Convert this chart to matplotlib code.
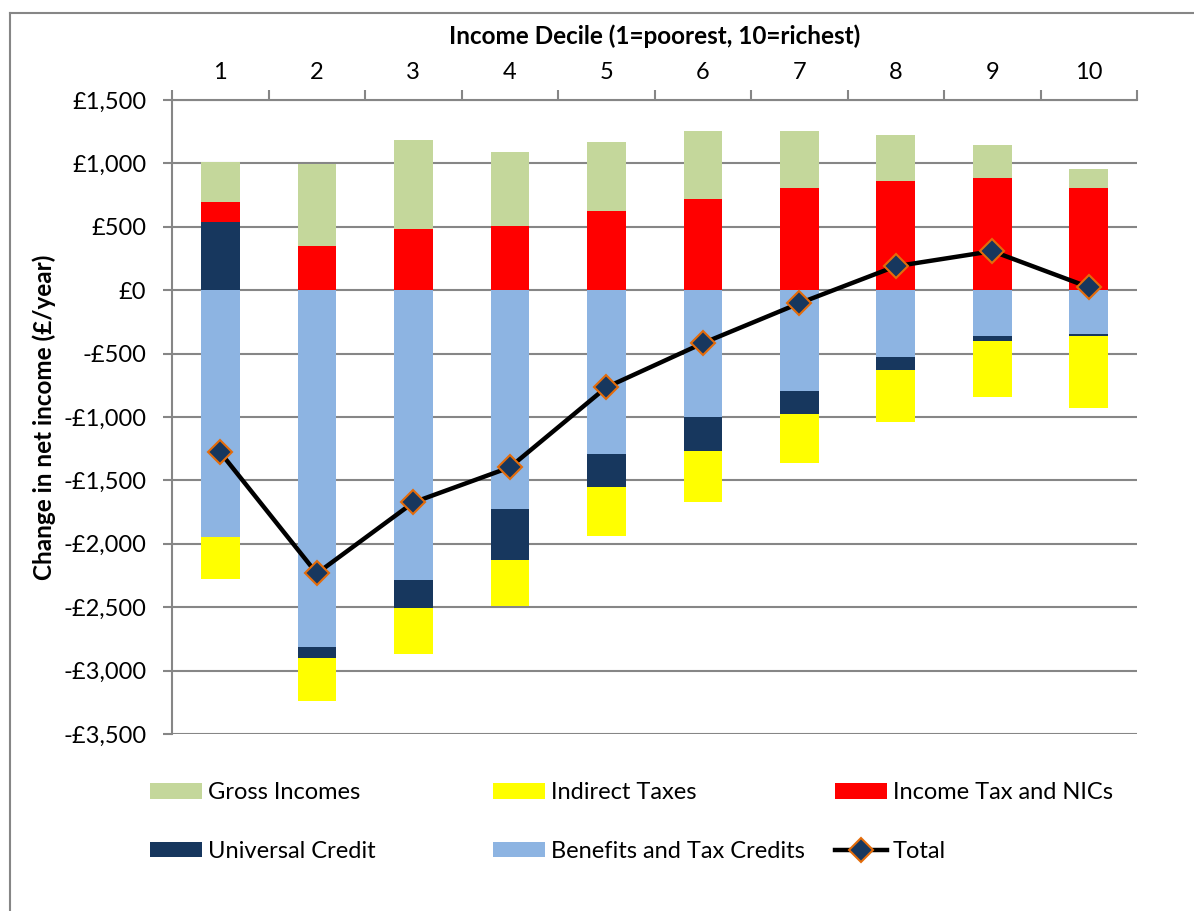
import numpy as np
import matplotlib
matplotlib.use("Agg")
import matplotlib.pyplot as plt
from matplotlib.lines import Line2D
from matplotlib.ticker import FuncFormatter

plt.rcParams['font.family'] = ['Lato', 'DejaVu Sans']

# Data (£/year)
deciles = [1, 2, 3, 4, 5, 6, 7, 8, 9, 10]
benefits = [-1950, -2811, -2282, -1729, -1295, -1003, -797, -529, -363, -347]
universal_credit = [540, -86, -221, -395, -260, -268, -182, -103, -40, -16]
income_tax = [155, 347, 482, 505, 624, 718, 805, 860, 884, 805]
gross_incomes = [315, 648, 702, 585, 544, 537, 450, 364, 261, 150]
indirect_taxes = [-330, -340, -363, -363, -387, -403, -387, -410, -442, -569]
total = [-1279, -2234, -1674, -1397, -766, -418, -103, 189, 308, 24]

series = [
    ("Benefits and Tax Credits", benefits, "#8DB4E2"),
    ("Universal Credit", universal_credit, "#17375E"),
    ("Income Tax and NICs", income_tax, "#FF0000"),
    ("Gross Incomes", gross_incomes, "#C4D79B"),
    ("Indirect Taxes", indirect_taxes, "#FFFF00"),
]

fig = plt.figure(figsize=(11.94, 9.11), dpi=100)
ax = fig.add_axes([0.1441, 0.1943, 0.8082, 0.6959])

x = np.arange(len(deciles))
pos_base = np.zeros(len(deciles))
neg_base = np.zeros(len(deciles))
handles = {}
for name, vals, color in series:
    vals = np.array(vals, dtype=float)
    bottom = np.where(vals >= 0, pos_base, neg_base)
    b = ax.bar(x, vals, width=0.4, bottom=bottom, color=color, zorder=2, label=name)
    handles[name] = b
    pos_base += np.where(vals >= 0, vals, 0)
    neg_base += np.where(vals < 0, vals, 0)

line, = ax.plot(x, total, color="black", lw=3.2, marker="D", markersize=12,
                markerfacecolor="#17375E", markeredgecolor="#E46C0A",
                markeredgewidth=1.5, zorder=3, label="Total")
handles["Total"] = line

ax.set_ylim(-3500, 1500)
ax.set_xlim(-0.5, len(deciles) - 0.5)
ax.set_yticks(np.arange(-3500, 1501, 500))
ax.yaxis.set_major_formatter(FuncFormatter(
    lambda v, p: ("-£{:,.0f}".format(-v) if v < 0 else "£{:,.0f}".format(v))))
ax.grid(axis="y", color="#868686", lw=1.5, zorder=0)
ax.set_axisbelow(True)

ax.xaxis.tick_top()
ax.xaxis.set_label_position("top")
ax.set_xticks(x)
ax.set_xticklabels([str(d) for d in deciles])
ax.set_xticks(np.arange(-0.5, len(deciles)), minor=True)
ax.tick_params(axis="x", which="major", length=0, labelsize=17, pad=12)
ax.tick_params(axis="x", which="minor", length=7, width=1.5, color="#868686", direction="out")
ax.tick_params(axis="y", length=6.5, width=1.5, color="#868686", labelsize=17, pad=12)

for s in ["right", "bottom"]:
    ax.spines[s].set_visible(False)
for s in ["top", "left"]:
    ax.spines[s].set_color("#868686")
    ax.spines[s].set_linewidth(1.5)

ax.set_xlabel("Income Decile (1=poorest, 10=richest)", fontsize=17.5, fontweight="bold", labelpad=13)
ax.set_ylabel("Change in net income (£/year)", fontsize=17.5, fontweight="bold", labelpad=5)

# legend laid out in three equal columns like the original
columns = [["Gross Incomes", "Universal Credit"],
           ["Indirect Taxes", "Benefits and Tax Credits"],
           ["Income Tax and NICs", "Total"]]
col_x = [150, 493, 835]
for names, cx in zip(columns, col_x):
    fig.legend([handles[k] for k in names], names, loc="upper left",
               bbox_to_anchor=(cx / 1194, 1 - 782 / 911), frameon=False,
               fontsize=17, handlelength=2.2, handleheight=0.65, handletextpad=0.25,
               labelspacing=1.6, borderpad=0, borderaxespad=0)

# outer chart border
fig.add_artist(Line2D([10 / 1194, 1], [1 - 13 / 911, 1 - 13 / 911], color="#868686", lw=1.5))
fig.add_artist(Line2D([10 / 1194, 10 / 1194], [0, 1 - 13 / 911], color="#868686", lw=1.5))

fig.savefig("out.png", dpi=100)
